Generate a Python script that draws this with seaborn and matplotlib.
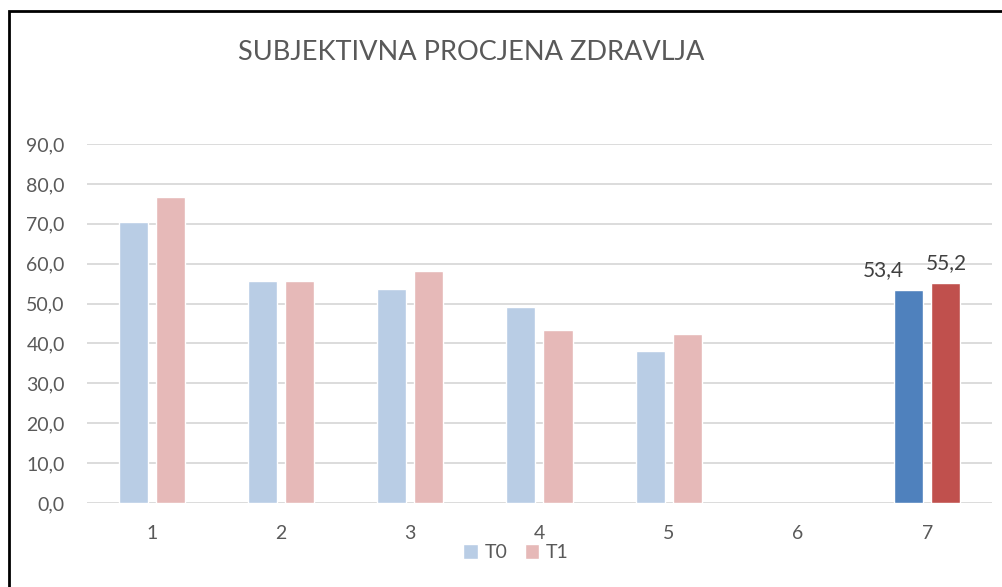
import numpy as np
import pandas as pd
import matplotlib
matplotlib.use("Agg")
import matplotlib.pyplot as plt
import seaborn as sns
from matplotlib.patches import Rectangle

# values (category 6 has no data)
categories = ["1", "2", "3", "4", "5", "6", "7"]
t0_values = [70.4, 55.7, 53.6, 49.1, 38.0, None, 53.4]
t1_values = [76.7, 55.6, 58.1, 43.3, 42.3, None, 55.2]
series = ["T0", "T1"]

light_colors = ["#B9CDE5", "#E6B9B8"]
dark_colors = ["#4F81BD", "#C0504D"]
text_grey = "#595959"

rows = []
for cat, a, b in zip(categories, t0_values, t1_values):
    if a is not None:
        rows.append({"kategorija": cat, "serija": "T0", "vrijednost": a})
    if b is not None:
        rows.append({"kategorija": cat, "serija": "T1", "vrijednost": b})
df = pd.DataFrame(rows)

sns.set_style("white")
plt.rcParams["font.family"] = ["Lato", "DejaVu Sans"]

fig = plt.figure(figsize=(10.02, 5.87), dpi=100)
ax = fig.add_axes([0.0868, 0.1431, 0.9032, 0.6116])

sns.barplot(data=df, x="kategorija", y="vrijednost", hue="serija",
            order=categories, hue_order=series, palette=light_colors,
            width=0.574, gap=0.216, errorbar=None, saturation=1,
            ax=ax, zorder=3)

# last group drawn in the strong colours, with data labels
label_shift = [-18, 0]
for i, cont in enumerate(ax.containers):
    bar = cont.patches[-1]
    bar.set_facecolor(dark_colors[i])
    ax.annotate(f"{bar.get_height():.1f}".replace(".", ","),
                (bar.get_x() + bar.get_width() / 2, bar.get_height()),
                xytext=(label_shift[i], 7), textcoords="offset points",
                ha="center", va="bottom", fontsize=15, color="#404040")

ax.set_ylim(0, 90)
ax.set_yticks(np.arange(0, 91, 10))
ax.set_yticklabels([f"{v:.1f}".replace(".", ",") for v in np.arange(0, 91, 10)])
ax.yaxis.grid(True, color="#D9D9D9", linewidth=1.3, zorder=0)
ax.set_axisbelow(True)
for s in ax.spines.values():
    s.set_visible(False)
ax.tick_params(axis="both", length=0, labelsize=14, colors=text_grey)
ax.tick_params(axis="x", pad=16)
ax.tick_params(axis="y", pad=16)
ax.set_xlabel("")
ax.set_ylabel("")

leg = ax.legend(loc="upper center", bbox_to_anchor=(0.474, -0.093), ncol=2,
                frameon=False, fontsize=14, handlelength=0.75, handleheight=0.75,
                handletextpad=0.35, columnspacing=0.9, labelcolor=text_grey,
                borderaxespad=0)

fig.text(0.470, 0.911, "SUBJEKTIVNA PROCJENA ZDRAVLJA", ha="center", va="center",
         fontsize=19.5, color=text_grey)

fig.patches.append(Rectangle((9 / 1002, -0.05), 1.1, 1 - 11 / 587 + 0.05,
                             transform=fig.transFigure, fill=False,
                             edgecolor="black", linewidth=2))

fig.savefig("out.png", dpi=100)
